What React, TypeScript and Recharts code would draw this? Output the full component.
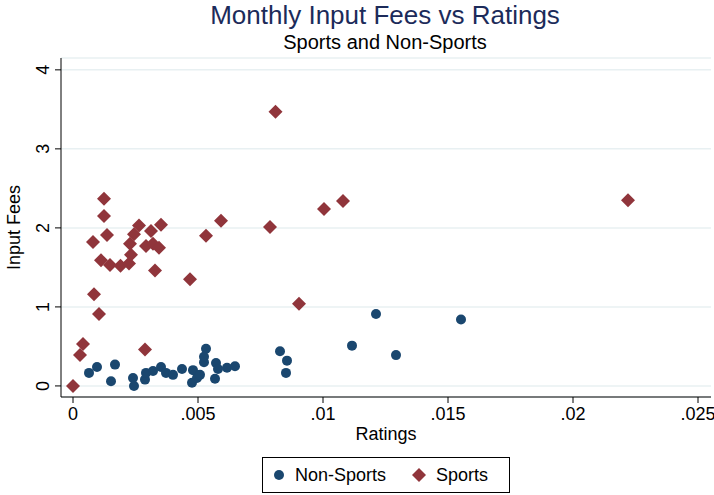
import { ScatterChart, Scatter, XAxis, YAxis, CartesianGrid, Legend, Label } from "recharts";

const nonSportsRatings = [
  0.00064, 0.00096, 0.00168, 0.00152, 0.0024, 0.00244, 0.00288, 0.00292, 0.0032, 0.00352,
  0.00372, 0.004, 0.00436, 0.0048, 0.00476, 0.00496, 0.00508, 0.00524, 0.00532, 0.00524,
  0.00572, 0.0058, 0.00568, 0.00616, 0.00648, 0.00828, 0.00856, 0.00852, 0.01116, 0.01212,
  0.01292, 0.01552,
];
const nonSportsFees = [
  0.165, 0.24, 0.27, 0.06, 0.1, 0.0, 0.08, 0.165, 0.19, 0.24,
  0.165, 0.14, 0.215, 0.2, 0.04, 0.1, 0.14, 0.3, 0.47, 0.37,
  0.29, 0.215, 0.09, 0.23, 0.25, 0.44, 0.32, 0.165, 0.51, 0.91,
  0.39, 0.84,
];

const sportsRatings = [
  0.0, 0.00028, 0.0004, 0.00084, 0.00104, 0.0008, 0.00124, 0.00124, 0.00136, 0.00112,
  0.00148, 0.0019, 0.00224, 0.00228, 0.00232, 0.00244, 0.00264, 0.00312, 0.00292, 0.0032,
  0.00344, 0.00352, 0.00328, 0.00288, 0.00468, 0.00532, 0.00592, 0.00788, 0.0081, 0.00904,
  0.01004, 0.0108, 0.0222,
];
const sportsFees = [
  0.0, 0.39, 0.53, 1.16, 0.91, 1.82, 2.37, 2.15, 1.91, 1.59,
  1.53, 1.52, 1.55, 1.8, 1.66, 1.92, 2.03, 1.96, 1.77, 1.8,
  1.75, 2.04, 1.46, 0.46, 1.35, 1.9, 2.09, 2.01, 3.47, 1.04,
  2.24, 2.34, 2.35,
];

const xTicks = [0, 0.005, 0.01, 0.015, 0.02, 0.025];
const yTicks = [0, 1, 2, 3, 4];

const NAVY = "#1a476f";
const MAROON = "#90353b";
const FONT = "'Liberation Sans', Arial, sans-serif";

const nonSports = nonSportsRatings.map((x, i) => ({ x, y: nonSportsFees[i] }));
const sports = sportsRatings.map((x, i) => ({ x, y: sportsFees[i] }));

const fmtX = (v: number) => (v === 0 ? "0" : String(v).replace(/^0/, ""));

const Dot = (props: any) => <circle cx={props.cx} cy={props.cy} r={5} fill={NAVY} />;

const Diamond = (props: any) => {
  const { cx, cy } = props;
  const s = 7;
  return (
    <polygon
      points={`${cx},${cy - s} ${cx + s},${cy} ${cx},${cy + s} ${cx - s},${cy}`}
      fill={MAROON}
    />
  );
};

const YTick = (props: any) => {
  const { x, y, payload } = props;
  return (
    <g transform={`translate(${x},${y})`}>
      <text transform="rotate(-90)" textAnchor="middle" dy={-4} fontSize={18} fill="#000" fontFamily={FONT}>
        {payload.value}
      </text>
    </g>
  );
};

const LegendBox = () => (
  <div
    style={{
      border: "1px solid #000",
      height: 34,
      display: "flex",
      alignItems: "center",
      fontSize: 18,
      fontFamily: FONT,
      color: "#000",
      background: "#fff",
    }}
  >
    <svg width={26} height={20} style={{ marginLeft: 4 }}>
      <circle cx={12} cy={10} r={5} fill={NAVY} />
    </svg>
    <span style={{ marginLeft: 2 }}>Non-Sports</span>
    <svg width={26} height={20} style={{ marginLeft: 20 }}>
      <polygon points="13,3 20,10 13,17 6,10" fill={MAROON} />
    </svg>
    <span style={{ marginLeft: 4 }}>Sports</span>
  </div>
);

const titleStyle = {
  position: "absolute" as const,
  left: 385,
  transform: "translateX(-50%)",
  whiteSpace: "nowrap" as const,
};

export default function App() {
  return (
    <div style={{ position: "absolute", left: 0, top: 0, width: 714, height: 495, background: "#fff", fontFamily: FONT }}>
      <div style={{ ...titleStyle, top: 1, fontSize: 26, lineHeight: "28px", color: "#1c2b5a" }}>
        Monthly Input Fees vs Ratings
      </div>
      <div style={{ ...titleStyle, top: 31, fontSize: 20, color: "#000" }}>Sports and Non-Sports</div>
      <ScatterChart width={714} height={495} margin={{ top: 58, right: 3, left: 0, bottom: 0 }}>
        <CartesianGrid vertical={false} stroke="#e8f0f2" strokeWidth={1.5} />
        <XAxis
          type="number"
          dataKey="x"
          domain={[-0.00048, 0.02552]}
          ticks={xTicks}
          tickFormatter={fmtX}
          allowDataOverflow
          height={98}
          tickSize={6}
          tickMargin={4}
          stroke="#000"
          tick={{ fontSize: 18, fill: "#000", fontFamily: FONT }}
        >
          <Label value="Ratings" position="insideTop" offset={30} style={{ fontSize: 18, fill: "#000", fontFamily: FONT }} />
        </XAxis>
        <YAxis
          type="number"
          dataKey="y"
          domain={[-0.14, 4.15]}
          ticks={yTicks}
          allowDataOverflow
          width={61}
          tickSize={6}
          stroke="#000"
          tick={<YTick />}
        >
          <Label
            value="Input Fees"
            angle={-90}
            position="insideLeft"
            offset={14}
            style={{ fontSize: 18, fill: "#000", fontFamily: FONT, textAnchor: "middle" }}
          />
        </YAxis>
        <Legend
          layout="horizontal"
          verticalAlign="middle"
          align="center"
          wrapperStyle={{ left: 262, top: 457, width: 248, height: 36 }}
          content={<LegendBox />}
        />
        <Scatter name="Non-Sports" data={nonSports} fill={NAVY} shape={Dot} isAnimationActive={false} />
        <Scatter name="Sports" data={sports} fill={MAROON} shape={Diamond} isAnimationActive={false} />
      </ScatterChart>
    </div>
  );
}
